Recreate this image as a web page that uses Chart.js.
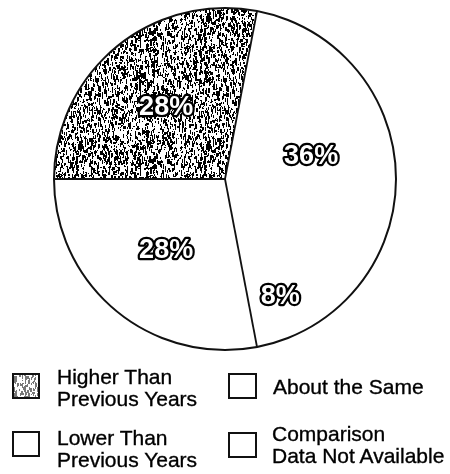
<!DOCTYPE html>
<html>
<head>
<meta charset="utf-8">
<script src="https://cdn.jsdelivr.net/npm/chart.js@4.4.1/dist/chart.umd.min.js"></script>
<style>
  html, body { margin: 0; padding: 0; background: #fff; }
  #wrap { position: relative; width: 450px; height: 474px; overflow: hidden; }
  #chart { position: absolute; left: 0; top: 0; }
  .item { position: absolute; font-family: "Liberation Sans", Arial, sans-serif; font-size: 21px; line-height: 22px; color: #000; -webkit-text-stroke: 0.35px #000; }
  .box { position: absolute; box-sizing: border-box; border: 2px solid #111; background: #fff; }
  .txt { position: absolute; white-space: nowrap; }
</style>
</head>
<body>
<div id="wrap">
  <canvas id="chart" width="450" height="474"></canvas>
  <div id="legend"></div>
</div>
<script>
// ---- data ----
const categories = ['Higher Than Previous Years', 'About the Same', 'Comparison Data Not Available', 'Lower Than Previous Years'];
const percentages = [28, 36, 8, 28];
const percentLabels = ['28%', '36%', '8%', '28%'];
const legendLines = [['Higher Than', 'Previous Years'], ['About the Same'], ['Comparison', 'Data Not Available'], ['Lower Than', 'Previous Years']];

// ---- stipple texture (deterministic) ----
function makeStipple(size, density, dark, seed) {
  const c = document.createElement('canvas');
  c.width = size; c.height = size;
  const g = c.getContext('2d');
  g.fillStyle = '#fff'; g.fillRect(0, 0, size, size);
  let s = seed >>> 0;
  const rnd = () => { s = (s * 1664525 + 1013904223) >>> 0; return s / 4294967296; };
  const col = [];
  for (let x = 0; x < size; x++) col.push(rnd());
  g.fillStyle = 'rgb(' + dark + ',' + dark + ',' + dark + ')';
  const n = Math.floor(size * size * density / 2.2);
  for (let k = 0; k < n; k++) {
    const x = Math.floor(rnd() * size);
    if (rnd() > 0.45 + 0.55 * col[x]) continue;
    const y = Math.floor(rnd() * size);
    const h = 1 + Math.floor(rnd() * 4);
    const w = rnd() < 0.25 ? 2 : 1;
    g.fillRect(x, y, w, h);
    if (y + h > size) g.fillRect(x, y - size, w, h);
  }
  return c;
}
const sliceTex = makeStipple(128, 0.5, 0, 12345);
const boxTex = makeStipple(32, 0.45, 120, 777);

const ctx0 = document.getElementById('chart').getContext('2d');
const slicePattern = ctx0.createPattern(sliceTex, 'repeat');
const sliceColors = [slicePattern, '#ffffff', '#ffffff', '#ffffff'];

// ---- plugin: outline, dividers, outlined percent labels ----
const pieDecor = {
  id: 'pieDecor',
  afterDatasetsDraw(chart, args, opts) {
    const ctx = chart.ctx;
    const meta = chart.getDatasetMeta(0);
    ctx.save();
    ctx.strokeStyle = '#111';
    ctx.lineWidth = 1.8;
    meta.data.forEach((arc, i) => {
      if (opts.skipDividers.includes(i)) return;
      const p = arc.getProps(['x', 'y', 'startAngle', 'outerRadius'], true);
      ctx.beginPath();
      ctx.moveTo(p.x, p.y);
      ctx.lineTo(p.x + Math.cos(p.startAngle) * p.outerRadius, p.y + Math.sin(p.startAngle) * p.outerRadius);
      ctx.stroke();
    });
    const a0 = meta.data[0].getProps(['x', 'y', 'outerRadius'], true);
    ctx.lineWidth = 2;
    ctx.beginPath();
    ctx.arc(a0.x, a0.y, a0.outerRadius, 0, Math.PI * 2);
    ctx.stroke();

    ctx.font = 'bold 27px "Liberation Sans", Arial, sans-serif';
    ctx.textAlign = 'center';
    ctx.textBaseline = 'middle';
    ctx.lineJoin = 'round';
    meta.data.forEach((arc, i) => {
      const p = arc.getProps(['x', 'y', 'startAngle', 'endAngle', 'outerRadius'], true);
      const mid = (p.startAngle + p.endAngle) / 2;
      const r = p.outerRadius * opts.labelRadius[i];
      const tx = p.x + Math.cos(mid) * r;
      const ty = p.y + Math.sin(mid) * r;
      ctx.lineWidth = 4.5;
      ctx.strokeStyle = '#000';
      ctx.strokeText(percentLabels[i], tx, ty);
      ctx.fillStyle = '#fff';
      ctx.fillText(percentLabels[i], tx, ty);
    });
    ctx.restore();
  }
};

new Chart(ctx0, {
  type: 'pie',
  data: {
    labels: categories,
    datasets: [{
      data: percentages,
      backgroundColor: sliceColors,
      borderWidth: 0
    }]
  },
  options: {
    responsive: false,
    animation: false,
    devicePixelRatio: 1,
    rotation: -90,
    layout: { padding: { top: 8, bottom: 124, left: 53, right: 53 } },
    plugins: {
      legend: { display: false },
      tooltip: { enabled: false },
      pieDecor: { skipDividers: [2], labelRadius: [0.54, 0.52, 0.76, 0.54] }
    }
  },
  plugins: [pieDecor]
});

// ---- HTML legend ----
const legendLayout = [
  { box: [12, 373, 28, 26], text: [57, 366] },
  { box: [228, 373, 29, 26], text: [273, 376] },
  { box: [228, 432, 29, 26], text: [272, 423] },
  { box: [12, 431, 28, 26], text: [57, 427] }
];
const legendEl = document.getElementById('legend');
categories.forEach((name, i) => {
  const L = legendLayout[i];
  const item = document.createElement('div');
  item.className = 'item';
  item.title = name;
  const box = document.createElement('div');
  box.className = 'box';
  box.style.left = L.box[0] + 'px'; box.style.top = L.box[1] + 'px';
  box.style.width = L.box[2] + 'px'; box.style.height = L.box[3] + 'px';
  if (i === 0) box.style.background = 'url(' + boxTex.toDataURL() + ')';
  const txt = document.createElement('div');
  txt.className = 'txt';
  txt.style.left = L.text[0] + 'px'; txt.style.top = L.text[1] + 'px';
  txt.innerHTML = legendLines[i].join('<br>');
  item.appendChild(box); item.appendChild(txt);
  legendEl.appendChild(item);
});
</script>
</body>
</html>
